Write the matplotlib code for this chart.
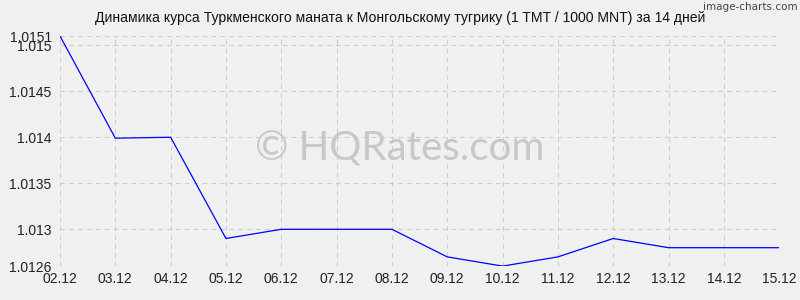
import matplotlib
matplotlib.use('Agg')
import matplotlib.pyplot as plt

plt.rcParams['font.family'] = ['Liberation Sans', 'DejaVu Sans']

dates = ['02.12', '03.12', '04.12', '05.12', '06.12', '07.12', '08.12',
         '09.12', '10.12', '11.12', '12.12', '13.12', '14.12', '15.12']
rates = [1.0151, 1.01399, 1.0140, 1.01290, 1.01300, 1.01300, 1.01300,
         1.01270, 1.0126, 1.01270, 1.01290, 1.01280, 1.01280, 1.01280]
yticks = [1.0126, 1.013, 1.0135, 1.014, 1.0145, 1.015, 1.0151]
ytick_labels = ['1.0126', '1.013', '1.0135', '1.014', '1.0145', '1.015', '1.0151']
title = 'Динамика курса Туркменского маната к Монгольскому тугрику (1 TMT / 1000 MNT) за 14 дней'

bg = '#f0f0f0'
fig = plt.figure(figsize=(8, 3), dpi=100, facecolor=bg)
ax = fig.add_axes([0.075, 0.113, 0.899, 0.767], facecolor=bg)

x = list(range(len(dates)))
ax.plot(x, rates, color='#0000ff', lw=0.9, zorder=3)

ax.set_xlim(0, len(dates) - 1)
ax.set_ylim(yticks[0], yticks[-1])
ax.set_xticks(x)
ax.set_xticklabels(dates)
ax.set_yticks(yticks)
ax.set_yticklabels(ytick_labels)
ax.tick_params(axis='both', length=0, labelsize=10, colors='#222222', pad=4)
ax.tick_params(axis='y', pad=6)
ax.grid(True, color='#cccccc', linestyle=(0, (4, 4)), lw=0.8)
for s in ax.spines.values():
    s.set_visible(False)

fig.text(0.5, 0.94, title, ha='center', va='center', fontsize=10.1, color='#111111')
fig.text(0.997, 0.975, 'image-charts.com', ha='right', va='center', fontsize=7.5,
         color='#444444', family=['Liberation Sans Narrow', 'DejaVu Sans'])
fig.text(0.5, 0.505, '© HQRates.com', ha='center', va='center',
         fontsize=29, color='#c8c8c8', family=['Lato', 'DejaVu Sans'], zorder=1)

fig.savefig('out.png', dpi=100, facecolor=bg)
